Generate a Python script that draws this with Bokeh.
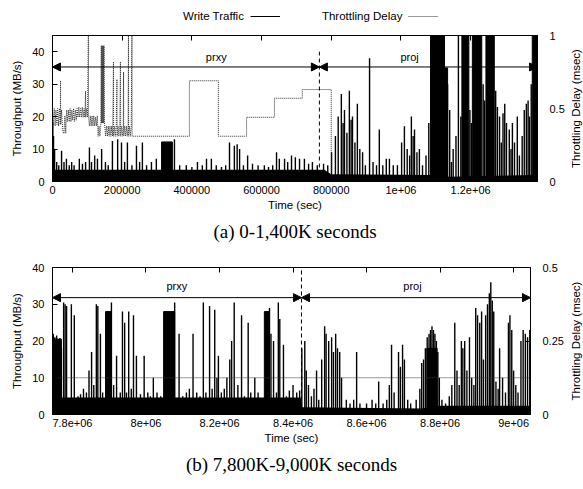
import math
from bokeh.plotting import figure
from bokeh.models import (Range1d, LinearAxis, FixedTicker, Arrow, NormalHead,
                          Label, Legend, LegendItem, Title)
from bokeh.layouts import column, row
from bokeh.embed import file_html
from bokeh.resources import INLINE

# ---------------- data: panel (a) 0-1,400K seconds ----------------
a_xrange = [0, 1392000]
a_yrange = [0, 45]
a_y2range = [0, 1]
a_xticks = [0, 200000, 400000, 600000, 800000, 1000000, 1200000]
a_xtick_labels = ["0", "200000", "400000", "600000", "800000", "1e+06", "1.2e+06"]
a_yticks = [0, 10, 20, 30, 40]
a_y2ticks = [0, 0.5, 1]
a_y2tick_labels = ["0", "0.5", "1"]

# solid low-level traffic (MB/s)
a_base_t = [0, 780000, 800000, 1085000, 1140000, 1392000]
a_base_v = [3.6, 3.6, 2.2, 2.0, 1.5, 2.0]

# write-traffic spikes (MB/s)
a_spike_t = [
    1000, 3000, 6000, 12000, 18000, 26000, 33000, 40000, 48000, 55000,
    62000, 77000, 86000, 95000, 106000, 112000, 121000, 129000, 141000, 152000,
    160000, 172000, 187000, 198000, 207000, 215000, 228000, 241000, 250000, 258000,
    270000, 284000, 298000, 350000, 365000, 384000, 400000, 416000, 430000, 442000,
    456000, 470000, 485000, 497000, 508000, 522000, 530000, 537000, 548000, 560000,
    574000, 590000, 608000, 620000, 632000, 643000, 651000, 666000, 675000, 686000,
    697000, 709000, 723000, 735000, 746000, 760000, 778000, 790000, 801000, 812000,
    820000, 829000, 834000, 838000, 845000, 852000, 857000, 861000, 868000, 875000,
    882000, 890000, 898000, 910000, 920000, 930000, 938000, 948000, 958000, 967000,
    978000, 990000, 1002000, 1010000, 1018000, 1025000, 1030000, 1035000, 1039000, 1046000,
    1053000, 1062000, 1072000, 1080000, 1134000, 1140000, 1145000, 1150000, 1158000, 1165000,
    1172000, 1198000, 1202000, 1236000, 1240000, 1272000, 1277000, 1283000, 1288000, 1293000,
    1298000, 1303000, 1311000, 1316000, 1320000, 1326000, 1334000, 1340000, 1348000, 1354000,
    1360000, 1365000, 1369000, 1374000]
a_spike_v = [
    18, 14, 10, 6, 5, 9.5, 6, 7, 5, 6,
    5, 7, 5.5, 6, 10.5, 6, 8, 7, 10, 6,
    5, 12.5, 13, 12, 6, 12, 5, 11, 6, 12,
    5, 6, 7, 13, 5, 5, 4.5, 6, 5, 7,
    7, 5, 4.5, 5, 12, 11, 11.5, 10, 5, 8,
    5.5, 5, 5, 4.5, 5, 9, 7, 7, 6, 8,
    7.5, 7, 7, 5.5, 6, 5, 5.5, 5, 9, 14,
    20, 27, 18, 22, 15, 28, 19, 20, 12, 24,
    10, 9, 5, 38, 6, 5, 16, 5, 7, 7,
    5, 5, 12, 17, 10, 8, 20, 14, 16, 9,
    10, 5, 8, 18, 30, 22, 6, 10, 14, 48,
    20, 22, 18, 30, 25, 28, 23, 20, 12, 21,
    24, 18, 16, 10, 18, 12, 20, 8, 14, 22,
    24, 25, 20, 30]

# sustained bursts (MB/s)
a_block_t0 = [313000, 1085000, 1125000, 1175000, 1205000, 1244000, 1377000]
a_block_t1 = [344000, 1125000, 1134000, 1195000, 1232000, 1268000, 1392000]
a_block_v = [12.2, 48, 35, 48, 48, 48, 48]

# throttling delay (msec)
a_delay_t = [
    0, 2500, 5000, 7500, 10000, 12500, 15000, 17500, 20000, 22500, 23000, 23500, 26000, 28500,
    31000, 33000, 35500, 38000,
    40500, 43000, 45500, 48000, 50500, 53000, 55500, 58000, 60500, 63000, 65500, 68000,
    70500, 73000, 75500, 78000, 80500, 83000, 85500, 88000, 90500, 93000, 95000, 95500, 98000,
    100500, 103000, 103500, 106000, 108500, 111000, 113500, 116000, 118500, 121000, 123500,
    126000, 128500, 131000, 133500, 136000, 138500,
    140000, 141000, 142000, 143000, 144000, 145000, 146000, 147000, 148000, 149000,
    150000, 152500, 155000, 157500, 160000, 162500, 165000, 167500, 170000, 172500,
    175000, 175500, 178000, 180500, 183000, 185000, 185500, 188000, 190500, 193000,
    195000, 195500, 198000, 200500, 203000, 204000, 204500, 207000, 209500, 212000,
    214500, 217000, 218000, 218500, 221000, 223500, 226000, 228000, 228500, 230000,
    393000, 393000, 476000, 476000, 557000, 557000, 637000, 637000, 717000, 717000,
    800000, 800000, 1392000]
a_delay_v = [
    0.50, 0.39, 0.50, 0.38, 0.49, 0.39, 0.50, 0.38, 0.50, 0.39, 0.69, 0.39, 0.49, 0.38,
    0.33, 0.33, 0.45, 0.33,
    0.49, 0.41, 0.49, 0.41, 0.50, 0.41, 0.49, 0.42, 0.50, 0.41, 0.49, 0.42,
    0.50, 0.44, 0.51, 0.44, 0.50, 0.44, 0.51, 0.44, 0.50, 0.44, 0.62, 0.44, 0.50,
    0.44, 1.05, 0.44, 0.38, 0.45, 0.38, 0.45, 0.38, 0.45, 0.38, 0.44,
    0.38, 0.45, 0.31, 0.38, 0.31, 0.38,
    0.93, 0.40, 0.93, 0.40, 0.93, 0.40, 0.93, 0.40, 0.93, 0.40,
    0.38, 0.31, 0.38, 0.31, 0.38, 0.31, 0.38, 0.31, 0.38, 0.31,
    0.82, 0.31, 0.38, 0.31, 0.38, 0.70, 0.31, 0.38, 0.31, 0.38,
    0.82, 0.31, 0.38, 0.31, 0.38, 0.75, 0.31, 0.38, 0.31, 0.38,
    0.31, 0.38, 1.05, 0.31, 0.38, 0.31, 0.38, 1.05, 0.31, 0.31,
    0.31, 0.69, 0.69, 0.31, 0.31, 0.44, 0.44, 0.57, 0.57, 0.63,
    0.63, 0.0, 0.0]

a_phase_names = ["prxy", "proj"]
a_phase_start = [0, 766000]
a_phase_end = [766000, 1392000]
a_phase_label_t = [470000, 1025000]

# ---------------- data: panel (b) 7,800K-9,000K seconds ----------------
b_xrange = [7745700, 9046000]
b_yrange = [0, 40]
b_y2range = [0, 0.5]
b_xticks = [7800000, 8000000, 8200000, 8400000, 8600000, 8800000, 9000000]
b_xtick_labels = ["7.8e+06", "8e+06", "8.2e+06", "8.4e+06", "8.6e+06", "8.8e+06", "9e+06"]
b_yticks = [0, 10, 20, 30, 40]
b_y2ticks = [0, 0.25, 0.5]
b_y2tick_labels = ["0", "0.25", "0.5"]

b_base_t = [7745700, 8421000, 8425000, 8750000, 8800000, 9046000]
b_base_v = [4.6, 4.6, 2.0, 1.6, 2.4, 2.4]

b_spike_t = [
    7748000, 7752000, 7757000, 7762000, 7766000, 7770000, 7776000, 7780000, 7784000, 7797000,
    7805000, 7815000, 7822000, 7830000, 7838000, 7845000, 7852000, 7858000, 7865000, 7869000,
    7876000, 7882000, 7906000, 7912000, 7920000, 7930000, 7936000, 7942000, 7947000, 7953000,
    7960000, 7966000, 7974000, 7985000, 7995000, 8005000, 8012000, 8020000, 8030000, 8040000,
    8078000, 8090000, 8100000, 8110000, 8118000, 8128000, 8138000, 8147000, 8156000, 8163000,
    8173000, 8180000, 8187000, 8193000, 8197000, 8205000, 8213000, 8220000, 8228000, 8233000,
    8240000, 8250000, 8260000, 8268000, 8278000, 8285000, 8296000, 8305000, 8336000, 8340000,
    8347000, 8355000, 8360000, 8364000, 8374000, 8382000, 8390000, 8400000, 8410000, 8418000,
    8424000, 8432000, 8436000, 8442000, 8450000, 8457000, 8464000, 8470000, 8478000, 8486000,
    8490000, 8497000, 8505000, 8510000, 8516000, 8521000, 8527000, 8532000, 8545000, 8555000,
    8565000, 8573000, 8582000, 8600000, 8615000, 8625000, 8633000, 8645000, 8655000, 8662000,
    8668000, 8675000, 8687000, 8692000, 8698000, 8703000, 8712000, 8720000, 8735000, 8745000,
    8750000, 8755000, 8760000, 8765000, 8770000, 8774000, 8778000, 8782000, 8786000, 8790000,
    8794000, 8798000, 8805000, 8815000, 8825000, 8832000, 8840000, 8846000, 8852000, 8858000,
    8862000, 8867000, 8873000, 8880000, 8886000, 8892000, 8897000, 8902000, 8908000, 8913000,
    8918000, 8924000, 8929000, 8934000, 8938000, 8942000, 8946000, 8952000, 8958000, 8962000,
    8970000, 8978000, 8986000, 8990000, 8995000, 9000000, 9006000, 9012000, 9020000, 9026000,
    9032000, 9038000, 9044000]
b_spike_v = [
    22, 21, 21.5, 20.5, 20.8, 18, 30.5, 30, 29.5, 30,
    27, 5, 5.5, 7, 6, 12, 17, 8, 30, 29.5,
    22, 6, 30.5, 8, 16, 6, 28, 25, 6, 28,
    7, 27, 16, 5.5, 16, 6, 5, 10, 6, 5,
    30.5, 22, 5, 6, 7, 22, 6, 5, 30.5, 6,
    29.5, 7, 28.5, 10, 16, 6, 7, 10, 15, 20,
    30.5, 8, 27, 5, 25, 6, 10, 6, 29, 22,
    20, 6, 30.5, 26, 19, 5, 6.5, 8, 6, 6.5,
    18, 20, 12, 8, 5, 7, 12, 4, 15, 24,
    22, 20, 21, 17, 22, 18, 17, 10, 4, 3,
    4, 17, 3, 3, 4, 3, 9, 3, 4, 8,
    19, 6, 17, 13, 19, 15, 4, 3, 4, 7,
    14, 15, 18, 21, 22, 23, 24, 23, 22, 20,
    17, 10, 4, 3, 5, 8, 25, 12, 8, 20,
    18, 20, 12, 21, 10, 8, 29, 27, 25, 28,
    15, 27, 30, 33, 36, 31, 28, 9, 7, 18,
    10, 6, 25, 27, 23, 12, 8, 6, 20, 23,
    22, 21, 23]

b_block_t0 = [7745700, 7890000, 8048000, 8322000, 8764000]
b_block_t1 = [7770000, 7906000, 8078000, 8336000, 8792000]
b_block_v = [20.5, 28, 28, 28, 18]

b_delay_t = [7745700, 9046000]
b_delay_v = [0.125, 0.125]

b_phase_names = ["prxy", "proj"]
b_phase_start = [7745700, 8423000]
b_phase_end = [8423000, 9046000]
b_phase_label_t = [8084000, 8725000]

legend_labels = ["Write Traffic", "Throttling Delay"]

# ---------------- styling ----------------
FONT = "Liberation Sans"
SERIF = "Liberation Serif"
TICK_FS = "11px"
LABEL_FS = "11.5px"
DELAY_COLOR = "#333333"
DELAY_DASH = "1 1"


def style_axis(ax):
    ax.major_label_text_font = FONT
    ax.major_label_text_font_size = TICK_FS
    ax.axis_label_text_font = FONT
    ax.axis_label_text_font_size = LABEL_FS
    ax.axis_label_text_font_style = "normal"
    ax.major_tick_in = 5
    ax.major_tick_out = 0
    ax.minor_tick_line_color = None
    ax.axis_line_color = "black"
    ax.major_tick_line_color = "black"
    ax.major_label_text_color = "black"
    ax.axis_label_text_color = "black"


def make_panel(width, height, borders, xr, yr, y2r, xticks, xlabels, yticks,
               y2ticks, y2labels, base_t, base_v, spike_t, spike_v,
               b_t0, b_t1, b_v, delay_t, delay_v, names, starts, ends, label_t,
               arrow_y, label_y, split_top, caption, cap_standoff):
    bl, br, bt, bb = borders
    p = figure(width=width, height=height, output_backend="svg",
               toolbar_location=None, x_range=Range1d(*xr), y_range=Range1d(*yr),
               min_border_left=bl, min_border_right=br, min_border_top=bt,
               min_border_bottom=bb, x_axis_location=None, y_axis_location=None)
    p.extra_y_ranges = {"delay": Range1d(*y2r)}
    p.xgrid.visible = False
    p.ygrid.visible = False
    p.outline_line_color = "black"
    p.outline_line_alpha = 1.0

    xax = LinearAxis(ticker=FixedTicker(ticks=xticks), axis_label="Time (sec)")
    xax.major_label_overrides = {t: l for t, l in zip(xticks, xlabels)}
    style_axis(xax)
    xax.major_label_standoff = 4
    xax.axis_label_standoff = 2
    p.add_layout(xax, "below")

    yax = LinearAxis(ticker=FixedTicker(ticks=yticks), axis_label="Throughput (MB/s)")
    style_axis(yax)
    yax.major_label_standoff = 8
    yax.axis_label_standoff = 6
    p.add_layout(yax, "left")

    y2ax = LinearAxis(y_range_name="delay", ticker=FixedTicker(ticks=y2ticks))
    y2ax.major_label_overrides = {t: l for t, l in zip(y2ticks, y2labels)}
    style_axis(y2ax)
    y2ax.major_label_standoff = 12
    p.add_layout(y2ax, "right")

    top = LinearAxis(ticker=FixedTicker(ticks=xticks))
    style_axis(top)
    top.major_label_text_font_size = "1px"
    top.major_label_text_color = None
    top.major_label_standoff = 0
    top.axis_line_color = None
    p.add_layout(top, "above")

    p.varea(x=base_t, y1=[0] * len(base_t), y2=base_v, fill_color="black")
    p.quad(left=b_t0, right=b_t1, bottom=[0] * len(b_v), top=b_v,
           fill_color="black", line_color="black", line_width=1)
    p.segment(x0=spike_t, y0=[0] * len(spike_t), x1=spike_t, y1=spike_v,
              line_color="black", line_width=1.4)
    p.line(x=delay_t, y=delay_v, y_range_name="delay",
           line_color=DELAY_COLOR, line_width=1, line_dash=DELAY_DASH)

    split = starts[1]
    p.segment(x0=[split], y0=[0], x1=[split], y1=[split_top],
              line_color="black", line_width=1, line_dash="4 3")
    for n, s, e, lt in zip(names, starts, ends, label_t):
        p.add_layout(Arrow(
            start=NormalHead(size=8, fill_color="black", line_color="black"),
            end=NormalHead(size=8, fill_color="black", line_color="black"),
            x_start=s, y_start=arrow_y, x_end=e, y_end=arrow_y,
            line_color="black", line_width=1))
        p.add_layout(Label(x=lt, y=label_y, text=n, text_align="center",
                           text_baseline="bottom", text_font=FONT,
                           text_font_size="11px", text_color="black"))

    p.add_layout(Title(text=caption, align="center", text_font=SERIF,
                       text_font_size="19px", text_font_style="normal",
                       text_color="black", standoff=cap_standoff), "below")
    return p


def side_title(width, height, bt, bb):
    s = figure(width=width, height=height, output_backend="svg",
               toolbar_location=None, x_axis_location=None, y_axis_location=None,
               title_location="left", min_border_left=0, min_border_right=0,
               min_border_top=bt, min_border_bottom=bb,
               x_range=Range1d(0, 1), y_range=Range1d(0, 1))
    s.outline_line_color = None
    s.xgrid.visible = False
    s.ygrid.visible = False
    s.title.text = "Throttling Delay (msec)"
    s.title.align = "center"
    s.title.text_font = FONT
    s.title.text_font_size = LABEL_FS
    s.title.text_font_style = "normal"
    s.title.text_color = "black"
    s.title.standoff = 0
    return s


# legend strip (label first, sample line after it, as in the original);
# the helper renderers sit outside the strip's visible range
strip = figure(width=575, height=14, output_backend="svg", toolbar_location=None,
               x_axis_location=None, y_axis_location=None, min_border=0,
               x_range=Range1d(0, 1), y_range=Range1d(0, 1))
strip.outline_line_color = None
strip.xgrid.visible = False
strip.ygrid.visible = False
w_r = strip.line(x=[5, 6], y=[5, 5], line_color="black", line_width=1)
d_r = strip.line(x=[5, 6], y=[5, 5], line_color=DELAY_COLOR, line_width=1,
                 line_dash=DELAY_DASH)
blank_r = strip.line(x=[5, 6], y=[5, 5], line_alpha=0)
leg = Legend(items=[LegendItem(label=legend_labels[0], renderers=[blank_r]),
                    LegendItem(label=" ", renderers=[w_r]),
                    LegendItem(label=legend_labels[1], renderers=[blank_r]),
                    LegendItem(label=" ", renderers=[d_r])],
             orientation="horizontal", location=(142, 0),
             label_text_font=FONT, label_text_font_size="11.5px",
             label_text_color="black", label_width=0,
             label_height=12, glyph_height=12, glyph_width=30,
             label_standoff=3, spacing=6, padding=1, margin=0,
             border_line_color=None, background_fill_alpha=0)
strip.add_layout(leg, "center")

pa = make_panel(559, 235, (42, 30, 13, 76), a_xrange, a_yrange, a_y2range,
                a_xticks, a_xtick_labels, a_yticks, a_y2ticks, a_y2tick_labels,
                a_base_t, a_base_v, a_spike_t, a_spike_v,
                a_block_t0, a_block_t1, a_block_v, a_delay_t, a_delay_v,
                a_phase_names, a_phase_start, a_phase_end, a_phase_label_t,
                35.3, 36.6, 40, "(a) 0-1,400K seconds", 10)
sa = side_title(16, 235, 13, 76)

pb = make_panel(559, 224, (42, 37, 10, 67), b_xrange, b_yrange, b_y2range,
                b_xticks, b_xtick_labels, b_yticks, b_y2ticks, b_y2tick_labels,
                b_base_t, b_base_v, b_spike_t, b_spike_v,
                b_block_t0, b_block_t1, b_block_v, b_delay_t, b_delay_v,
                b_phase_names, b_phase_start, b_phase_end, b_phase_label_t,
                31.8, 33.3, 40, "(b) 7,800K-9,000K seconds", 11)
sb = side_title(16, 224, 10, 67)

# the page template has no body margin, so reproduce the 8px page margin here
layout = column(strip, row(pa, sa), row(pb, sb), margin=(8, 0, 0, 8))
open("out.html", "w").write(file_html(layout, INLINE))
